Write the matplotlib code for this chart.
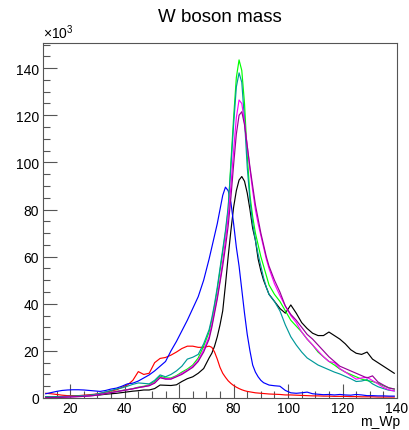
import matplotlib
matplotlib.use("Agg")
import matplotlib.pyplot as plt
from matplotlib.ticker import MultipleLocator
import numpy as np

plt.rcParams['font.family'] = ['Liberation Sans', 'DejaVu Sans']
plt.rcParams['mathtext.fontset'] = 'custom'
plt.rcParams['mathtext.rm'] = 'Liberation Sans'
plt.rcParams['mathtext.it'] = 'Liberation Sans'

# bin centres (m_Wp)
mass = ([11, 13, 15, 17, 19, 21, 23, 25, 27, 29, 31, 33, 35, 37, 39, 41, 43, 45, 47, 49,
         51, 53, 55, 57, 59, 61, 63, 65, 67, 69, 71]
        + [72, 73, 74, 75, 76, 77, 78, 79, 80, 81, 82, 83, 84, 85, 86, 87, 88, 89, 90, 91, 92]
        + [93, 95, 97, 99, 101, 103, 105, 107, 109, 111, 113, 115, 117, 119, 121, 123, 125,
           127, 129, 131, 133, 135, 137, 139])

# counts in units of 10^3
black = ([0.5, 0.5, 0.6, 0.6, 0.7, 0.7, 0.8, 0.9, 1.0, 1.1, 1.3, 1.6, 1.8, 2.0, 2.3, 2.6, 2.9, 3.1, 3.4, 3.4,
          4.0, 5.5, 5.4, 5.3, 5.6, 7.0, 8.2, 9.0, 10.5, 12.5, 17]
         + [19, 22, 26, 31, 37, 48, 60, 71, 81, 88, 92.5, 94, 92, 87, 80, 72, 67, 59, 54, 50, 47]
         + [44, 41, 38, 36, 39.5, 36, 32, 29.5, 27.5, 26.5, 26.5, 28, 26.5, 25, 23, 20.5, 19, 18.5,
            19.5, 16.5, 15, 13.5, 12, 10.5])
red = ([2.0, 1.8, 1.5, 1.2, 1.0, 1.0, 1.0, 1.2, 1.4, 1.6, 2.0, 2.5, 3.0, 3.5, 4.5, 5.5, 7.5, 11.2, 10.0, 10.5,
        15.0, 16.8, 17.2, 18.2, 19.5, 21.0, 22.0, 22.0, 21.5, 21.5, 22.0]
       + [21.5, 19.5, 16.5, 13, 10.5, 8.8, 7.3, 6.2, 5.3, 4.6, 4.0, 3.5, 3.1, 2.8, 2.6, 2.4, 2.2, 2.1, 2.0, 1.9, 1.8]
       + [1.7, 1.6, 1.5, 1.3, 1.3, 1.2, 1.1, 1.0, 0.9, 0.9, 0.8, 0.8, 0.7, 0.7, 0.7, 0.6, 0.6, 0.5,
          0.5, 0.5, 0.4, 0.4, 0.4, 0.4])
blue = ([1.8, 2.3, 2.8, 3.2, 3.4, 3.5, 3.5, 3.4, 3.2, 3.0, 2.8, 3.2, 3.8, 4.2, 5.0, 6.0, 6.3, 7.2, 8.5, 9.8,
         11.5, 13.5, 15.5, 20, 24, 28.5, 33, 38, 43, 50, 59]
        + [64, 69, 74, 80, 86, 89.5, 88, 83, 74, 64, 56, 46, 36, 27, 20, 14, 11, 9, 7.5, 6.5, 6]
        + [5.5, 5.2, 5.0, 3.2, 2.2, 2.0, 2.2, 2.5, 1.8, 1.6, 1.4, 1.5, 1.3, 1.5, 1.3, 1.2, 1.5, 1.3,
           1.0, 1.0, 0.9, 0.9, 0.8, 0.8])
green = ([0.3, 0.3, 0.3, 0.4, 0.5, 0.6, 0.7, 0.8, 1.0, 1.2, 1.6, 2.0, 2.4, 2.8, 3.2, 3.6, 4.0, 4.6, 5.0, 5.6,
          7.0, 9.3, 8.5, 8.5, 9.5, 11, 12.3, 14, 17, 22, 28]
         + [33, 39, 46, 54, 62, 70, 80, 100, 119, 136, 143.5, 139, 125, 103, 86, 77, 70, 65, 60, 56, 52]
         + [48, 44, 41, 37, 33, 30.5, 28, 25, 22.5, 19.5, 17.5, 15.5, 14, 12.3, 11, 10, 9, 8,
            7.4, 7, 6.3, 5.2, 4.3, 3.8])
teal = ([0.5, 0.5, 0.5, 0.6, 0.7, 0.8, 0.9, 1.0, 1.2, 1.5, 2.0, 2.6, 3.2, 3.8, 4.3, 5.0, 5.8, 6.4, 6.2, 6.0,
         7.5, 9.8, 9.0, 10, 11.5, 13.5, 16.5, 17.3, 18.5, 23, 29]
        + [34, 40, 47, 55, 63, 71, 81, 98, 116, 132, 138, 134, 118, 98, 84, 74, 67, 61, 56, 51, 47]
        + [44, 41, 37, 31, 26, 22.5, 19.5, 17, 15.5, 14, 13, 12, 11, 10.2, 9.2, 8.2, 7, 7.2,
           7.8, 6, 4.8, 4, 3.3, 3])
magenta = ([0.2, 0.2, 0.2, 0.3, 0.4, 0.5, 0.6, 0.7, 0.9, 1.1, 1.5, 1.9, 2.3, 2.7, 3.1, 3.5, 3.9, 4.4, 4.8, 5.3,
            6.5, 8.8, 8.2, 8.2, 9.2, 10.5, 11.8, 13.5, 16, 20.5, 26]
           + [31, 37, 43, 50, 58, 67, 77, 90, 105, 119, 126.5, 125, 117, 107, 97, 88, 80, 74, 69, 64, 59]
           + [55, 48.5, 43.5, 39, 35, 32, 28, 25, 22.5, 20, 17.5, 15.5, 15, 12.5, 11, 9.5, 8, 8.5,
              8.8, 7.4, 6, 4.5, 3.5, 3])
purple = ([0.2, 0.2, 0.2, 0.3, 0.4, 0.5, 0.6, 0.7, 0.9, 1.1, 1.5, 1.9, 2.3, 2.7, 3.1, 3.5, 3.9, 4.4, 4.8, 5.2,
           6.3, 8.6, 8.0, 8.0, 9.0, 10.0, 11.5, 13.0, 15.5, 19.5, 25]
          + [30, 36, 42, 49, 56, 64, 73, 85, 99, 112, 120, 121.5, 116, 107, 98, 90, 82, 76, 70, 65, 60]
          + [56, 50, 45, 39, 35.5, 33, 30, 27, 25, 22.5, 20, 17.5, 15.5, 13.5, 12.5, 11.5, 10.5, 9.5,
             8.5, 9.4, 6.8, 5.5, 4.3, 3.8])

series = [
    (black, '#000000'),
    (red, '#ff0000'),
    (blue, '#0000ff'),
    (green, '#00ff00'),
    (teal, '#009999'),
    (magenta, '#ff00ff'),
    (purple, '#990099'),
]

W, H = 409, 431
fig = plt.figure(figsize=(W / 100, H / 100), dpi=100)
ax = fig.add_axes([43 / W, (H - 399) / H, (397 - 43) / W, (399 - 44) / H])

for vals, col in series:
    ax.plot(mass, vals, color=col, lw=0.85)

ymax = max(max(v) for v, _ in series) * 1.05
ax.set_xlim(10, 140)
ax.set_ylim(0, ymax)

ax.xaxis.set_major_locator(MultipleLocator(20))
ax.xaxis.set_minor_locator(MultipleLocator(5))
ax.yaxis.set_major_locator(MultipleLocator(20))
ax.yaxis.set_minor_locator(MultipleLocator(5))
ax.tick_params(which='both', direction='in', top=False, right=False, labelsize=10, color='#555555')
ax.tick_params(which='major', length=10, width=0.8)
ax.tick_params(which='minor', length=5, width=0.8)
ax.tick_params(axis='x', pad=2.5)
ax.tick_params(axis='y', pad=3)
for sp in ax.spines.values():
    sp.set_linewidth(0.8)
    sp.set_color('#555555')

ax.text(0.0, 1.005, r'$\times10^{3}$', transform=ax.transAxes, ha='left', va='bottom', fontsize=10)
fig.text(400 / W, 1 - 426 / H, 'm_Wp', ha='right', va='baseline', fontsize=10)
fig.text(220 / W, 1 - 17 / H, 'W boson mass', ha='center', va='center', fontsize=13.5)

fig.savefig('out.png', dpi=100)
